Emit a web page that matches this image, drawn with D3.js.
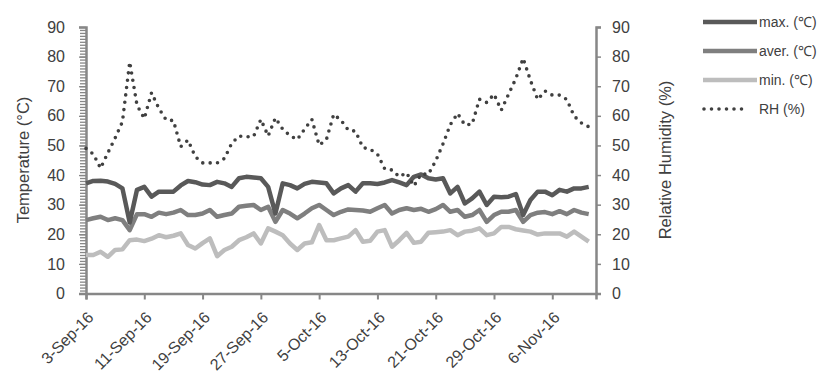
<!DOCTYPE html>
<html>
<head>
<meta charset="utf-8">
<script src="https://cdn.jsdelivr.net/npm/d3@7"></script>
<style>
  body { margin: 0; background: #fff; }
  text { font-family: "Liberation Sans", Arial, sans-serif; fill: #404040; }
</style>
</head>
<body>
<svg id="chart" width="825" height="387"></svg>
<script>
// daily values, 3-Sep-16 .. 11-Nov-16
const startDate = new Date(2016, 8, 3);
const maxT = [37.2, 38, 38.1, 37.8, 37, 35.5, 24, 35, 36, 32.7,
  34.4, 34.4, 34.4, 36.5, 38, 37.6, 36.8, 36.6, 37.7, 37.2,
  36, 38.9, 39.4, 39.2, 38.9, 36, 27, 37.2, 36.6, 35.5,
  37, 37.7, 37.5, 37.2, 33.8, 35.5, 36.6, 34.4, 37.2, 37.2,
  37, 37.5, 38.3, 37.5, 36.6, 39.4, 40.2, 38.9, 38.5, 38.9,
  33.8, 36, 30.4, 32.1, 34.4, 29.9, 32.7, 32.5, 32.7, 33.6,
  26.5, 31.6, 34.4, 34.4, 33.2, 35, 34.4, 35.5, 35.5, 36];
const avgT = [24.8, 25.4, 25.9, 24.8, 25.4, 24.8, 21.4, 26.8, 26.8, 25.9,
  27.3, 26.8, 27.3, 28.2, 26.5, 26.5, 27, 28.2, 25.9, 26.5,
  27, 29.3, 29.6, 29.9, 28.2, 29.3, 24.2, 28.2, 27, 25.4,
  27, 28.8, 29.9, 28.2, 26.5, 27.6, 28.4, 28.2, 28, 27.6,
  28.8, 29.9, 27, 28.2, 28.8, 28.2, 28.6, 27.6, 28.5, 29.9,
  27.6, 28.2, 25.9, 26.5, 28.2, 24.2, 26.5, 27.6, 27.6, 28.2,
  24.2, 26.5, 27.3, 27.5, 26.8, 27.8, 26.8, 28.2, 27.3, 26.8];
const minT = [13, 13, 14.1, 12.4, 14.7, 14.9, 18, 18.2, 17.7, 18.5,
  19.7, 19, 19.5, 20.3, 16.4, 15.2, 17, 18.6, 12.6, 14.7,
  15.8, 18, 19, 20.3, 16.9, 22, 20.9, 19.7, 16.9, 14.7,
  16.9, 17.3, 23.1, 18, 18, 18.6, 19.2, 21.4, 17.5, 17.8,
  20.9, 21.4, 15.8, 18, 20.5, 17.1, 17.5, 20.5, 20.7, 20.9,
  21.4, 19.7, 20.9, 21.2, 22, 19.7, 20.3, 22.5, 22.5, 21.7,
  21.3, 20.9, 19.9, 20.3, 20.3, 20.3, 19.2, 20.9, 19.2, 17.5];
const rh = [49, 47.1, 42.3, 47.5, 52.5, 58, 78.2, 63.6, 59.1, 67.8,
  62.5, 58.6, 58.4, 49.6, 51.8, 46.2, 44.1, 44.1, 44.1, 45.6,
  50.7, 53.2, 52.9, 53, 58.8, 53.2, 59.3, 55.5, 53.3, 52,
  55.5, 58.8, 50.1, 52, 60.5, 58.5, 55.2, 54.8, 49.3, 48.7,
  47.1, 42.1, 41.7, 39.4, 40.8, 36.3, 40.3, 40.3, 44.8, 50.5,
  57, 60.8, 56.9, 57.2, 65.6, 64.5, 67.3, 61.9, 67.3, 72.6,
  79.4, 72, 65.5, 68.4, 67, 67, 65.5, 59.9, 57.6, 56.3];
const yTicks = [0, 10, 20, 30, 40, 50, 60, 70, 80, 90];
const tickDates = ["2016-09-03", "2016-09-11", "2016-09-19", "2016-09-27", "2016-10-05",
  "2016-10-13", "2016-10-21", "2016-10-29", "2016-11-06"];
const seriesNames = ["max. (℃)", "aver. (℃)", "min. (℃)", "RH (%)"];

const dates = maxT.map((_, i) => d3.timeDay.offset(startDate, i));
const parse = d3.timeParse("%Y-%m-%d");

const svg = d3.select("#chart");
const plotL = 86, plotR = 596, plotT = 27, plotB = 293.5;

const x = d3.scaleTime()
  .domain([startDate, d3.timeDay.offset(startDate, 70)])
  .range([plotL, plotR]);
const yT = d3.scaleLinear().domain([0, 90]).range([plotB, plotT]);
const yH = d3.scaleLinear().domain([0, 90]).range([plotB, plotT]);

const axisColor = "#878787";

// left axis with minor ticks
const minor = svg.append("g").attr("transform", `translate(${plotL},0)`)
  .call(d3.axisLeft(yT).tickValues(d3.range(0, 91, 1)).tickSize(6).tickFormat(""));
minor.selectAll("line").attr("stroke", axisColor).attr("stroke-width", 1.3);
minor.select(".domain").remove();

const yAxisL = svg.append("g").attr("transform", `translate(${plotL},0)`)
  .call(d3.axisLeft(yT).tickValues(yTicks).tickSize(7).tickPadding(14));
yAxisL.select(".domain").attr("stroke", axisColor).attr("stroke-width", 2.5);
yAxisL.selectAll("line").attr("stroke", axisColor).attr("stroke-width", 1.3);
yAxisL.selectAll("text").attr("font-size", 16).style("fill", "#404040")
  .attr("font-family", "Liberation Sans, Arial, sans-serif");

const yAxisR = svg.append("g").attr("transform", `translate(${plotR},0)`)
  .call(d3.axisRight(yH).tickValues(yTicks).tickSize(5).tickPadding(11));
yAxisR.select(".domain").attr("stroke", axisColor).attr("stroke-width", 2.5);
yAxisR.selectAll("line").attr("stroke", axisColor).attr("stroke-width", 1.5);
yAxisR.selectAll("text").attr("font-size", 16).style("fill", "#404040")
  .attr("font-family", "Liberation Sans, Arial, sans-serif");

const xAxis = svg.append("g").attr("transform", `translate(0,${plotB})`)
  .call(d3.axisBottom(x).tickValues(tickDates.map(parse)).tickSize(6)
    .tickFormat(d3.timeFormat("%-d-%b-%y")));
xAxis.select(".domain").attr("stroke", axisColor).attr("stroke-width", 2.5);
xAxis.selectAll("line").attr("stroke", axisColor).attr("stroke-width", 2);
xAxis.selectAll("text")
  .attr("font-size", 16).style("fill", "#404040")
  .attr("font-family", "Liberation Sans, Arial, sans-serif")
  .attr("text-anchor", "end")
  .attr("dy", 0).attr("y", 0)
  .attr("transform", "translate(8,25) rotate(-45)");

// axis titles
svg.append("text")
  .attr("transform", "translate(29,160) rotate(-90)")
  .attr("text-anchor", "middle").attr("font-size", 16.5)
  .text("Temperature (°C)");
svg.append("text")
  .attr("transform", "translate(671,160) rotate(-90)")
  .attr("text-anchor", "middle").attr("font-size", 16.5)
  .text("Relative Humidity (%)");

// series
const lineT = d3.line().x((d, i) => x(dates[i])).y(d => yT(d));
const lineH = d3.line().x((d, i) => x(dates[i])).y(d => yH(d));

const styles = [
  { data: maxT, color: "#595959", line: lineT },
  { data: avgT, color: "#7f7f7f", line: lineT },
  { data: minT, color: "#bdbdbd", line: lineT }
];
styles.slice().reverse().forEach(s => {
  svg.append("path").datum(s.data)
    .attr("fill", "none").attr("stroke", s.color)
    .attr("stroke-width", 4.5).attr("stroke-linejoin", "round")
    .attr("d", s.line);
});
svg.append("path").datum(rh)
  .attr("fill", "none").attr("stroke", "#404040")
  .attr("stroke-width", 3.6).attr("stroke-linecap", "round")
  .attr("stroke-dasharray", "0,7.4")
  .attr("d", lineH);

// legend
const legendY = [22, 51, 80, 109];
const legendColors = ["#595959", "#7f7f7f", "#bdbdbd", "#404040"];
const lg = svg.append("g");
seriesNames.forEach((name, i) => {
  const yy = legendY[i];
  if (i < 3) {
    lg.append("line").attr("x1", 703).attr("x2", 757).attr("y1", yy).attr("y2", yy)
      .attr("stroke", legendColors[i]).attr("stroke-width", 4.5);
  } else {
    lg.append("line").attr("x1", 704).attr("x2", 742).attr("y1", yy).attr("y2", yy)
      .attr("stroke", legendColors[i]).attr("stroke-width", 3.6)
      .attr("stroke-linecap", "round").attr("stroke-dasharray", "0,7.5");
  }
  lg.append("text").attr("x", 759).attr("y", yy + 5)
    .attr("font-size", 14)
    .style("font-family", "'Liberation Sans Narrow', 'Arial Narrow', 'Liberation Sans', sans-serif")
    .text(name);
});
</script>
</body>
</html>
